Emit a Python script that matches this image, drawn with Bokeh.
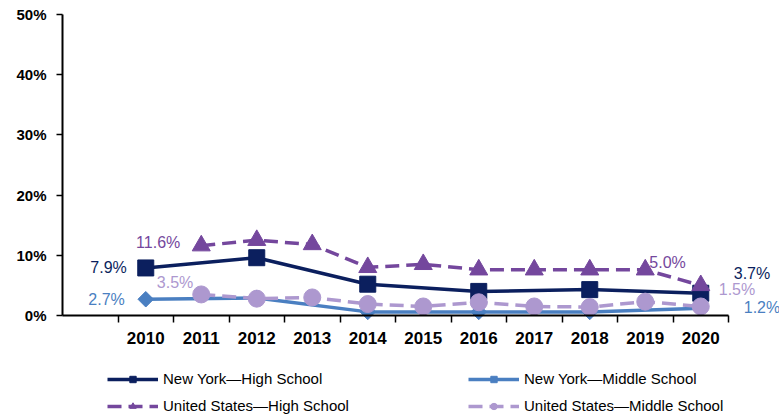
import math
from bokeh.plotting import figure
from bokeh.models import Range1d, FixedTicker, Legend, LegendItem, Label, CustomJSTickFormatter
from bokeh.embed import file_html
from bokeh.resources import INLINE

years_all = [2010, 2011, 2012, 2013, 2014, 2015, 2016, 2017, 2018, 2019, 2020]

ny_hs_years = [2010, 2012, 2014, 2016, 2018, 2020]
ny_hs = [7.9, 9.6, 5.2, 4.0, 4.3, 3.7]

ny_ms_years = [2010, 2012, 2014, 2016, 2018, 2020]
ny_ms = [2.7, 2.9, 0.6, 0.6, 0.6, 1.2]

us_hs_years = [2011, 2012, 2013, 2014, 2015, 2016, 2017, 2018, 2019, 2020]
us_hs = [11.6, 12.5, 11.8, 8.0, 8.5, 7.6, 7.6, 7.6, 7.6, 5.0]

us_ms_years = [2011, 2012, 2013, 2014, 2015, 2016, 2017, 2018, 2019, 2020]
us_ms = [3.5, 2.8, 3.0, 1.9, 1.5, 2.2, 1.5, 1.4, 2.3, 1.5]

y_ticks = [0, 10, 20, 30, 40, 50]

C_NYHS = "#0b1f5e"
C_NYMS = "#4a7fc1"
C_USHS = "#74479d"
C_USMS = "#ad98cf"

# layout (pixels)
W, H = 779, 415
AX_LEFT, AX_RIGHT = 62, 728      # x axis extent
AX_TOP, AX_BOTTOM = 14, 315      # y axis extent (50% .. 0%)

xa0 = years_all[0] - 1.5
xa1 = years_all[-1] + 0.5
ppx = (AX_RIGHT - AX_LEFT) / (xa1 - xa0)
ya0, ya1 = y_ticks[0], y_ticks[-1]
ppy = (AX_BOTTOM - AX_TOP) / (ya1 - ya0)

x_range = Range1d(xa0 - AX_LEFT / ppx, xa1 + (W - AX_RIGHT) / ppx)
y_range = Range1d(ya0 - (H - AX_BOTTOM) / ppy, ya1 + AX_TOP / ppy)

p = figure(width=W, height=H, output_backend="svg", toolbar_location=None,
           x_range=x_range, y_range=y_range,
           min_border_left=0, min_border_right=0, min_border_top=0, min_border_bottom=0)
p.outline_line_color = None
p.xgrid.visible = False
p.ygrid.visible = False

# axes
boundaries = [y - 0.5 for y in years_all] + [years_all[-1] + 0.5]
p.xaxis.fixed_location = ya0
p.xaxis.bounds = (xa0, xa1)
p.xaxis.ticker = FixedTicker(ticks=years_all, minor_ticks=boundaries)
p.xaxis.major_tick_out = 0
p.xaxis.major_tick_in = 0
p.xaxis.minor_tick_out = 7
p.xaxis.minor_tick_in = 0
p.xaxis.minor_tick_line_color = "black"
p.xaxis.minor_tick_line_width = 1.5
p.xaxis.axis_line_width = 2
p.xaxis.axis_line_color = "black"
p.xaxis.major_label_standoff = 9
p.xaxis.major_label_text_font = "Liberation Sans"
p.xaxis.major_label_text_font_style = "bold"
p.xaxis.major_label_text_font_size = "17px"
p.xaxis.major_label_text_color = "black"

p.yaxis.fixed_location = xa0
p.yaxis.bounds = (ya0, ya1)
p.yaxis.ticker = FixedTicker(ticks=y_ticks, minor_ticks=[])
p.yaxis.formatter = CustomJSTickFormatter(code="return tick.toFixed(0) + '%';")
p.yaxis.major_tick_out = 6
p.yaxis.major_tick_in = 0
p.yaxis.major_tick_line_width = 1.5
p.yaxis.major_tick_line_color = "black"
p.yaxis.axis_line_width = 2
p.yaxis.axis_line_color = "black"
p.yaxis.major_label_standoff = 10
p.yaxis.major_label_text_font = "Liberation Sans"
p.yaxis.major_label_text_font_style = "bold"
p.yaxis.major_label_text_font_size = "15px"
p.yaxis.major_label_text_color = "black"

# series
l1 = p.line(ny_hs_years, ny_hs, line_color=C_NYHS, line_width=3.5)
m1 = p.scatter(ny_hs_years, ny_hs, marker="square", size=16, fill_color=C_NYHS, line_color=C_NYHS)

l2 = p.line(ny_ms_years, ny_ms, line_color=C_NYMS, line_width=3.5)
m2 = p.scatter(ny_ms_years, ny_ms, marker="square", angle=math.pi / 4, size=11,
               fill_color=C_NYMS, line_color=C_NYMS)

l3 = p.line(us_hs_years, us_hs, line_color=C_USHS, line_width=3.5, line_dash="14 7")
m3 = p.scatter(us_hs_years, us_hs, marker="triangle", size=18, fill_color=C_USHS, line_color=C_USHS)

l4 = p.line(us_ms_years, us_ms, line_color=C_USMS, line_width=3.5, line_dash="14 7")
m4 = p.scatter(us_ms_years, us_ms, marker="circle", size=17, fill_color=C_USMS, line_color=C_USMS)

# data labels
def lab(x, y, txt, color, xo, yo, align):
    p.add_layout(Label(x=x, y=y, text=txt, text_color=color, x_offset=xo, y_offset=yo,
                       text_align=align, text_baseline="middle",
                       text_font="Liberation Sans", text_font_size="16px"))

lab(ny_hs_years[0], ny_hs[0], f"{ny_hs[0]:.1f}%", C_NYHS, -19, 0, "right")
lab(ny_ms_years[0], ny_ms[0], f"{ny_ms[0]:.1f}%", C_NYMS, -21, 0, "right")
lab(us_hs_years[0], us_hs[0], f"{us_hs[0]:.1f}%", C_USHS, -21, 3, "right")
lab(us_ms_years[0], us_ms[0], f"{us_ms[0]:.1f}%", C_USMS, -8, 12, "right")
lab(us_hs_years[-1], us_hs[-1], f"{us_hs[-1]:.1f}%", C_USHS, -15, 23, "right")
lab(ny_hs_years[-1], ny_hs[-1], f"{ny_hs[-1]:.1f}%", C_NYHS, 33, 20, "left")
lab(us_ms_years[-1], us_ms[-1], f"{us_ms[-1]:.1f}%", C_USMS, 18, 17, "left")
lab(ny_ms_years[-1], ny_ms[-1], f"{ny_ms[-1]:.1f}%", C_NYMS, 43, 1, "left")

# legend (column-major order with 2 columns -> rows: NY HS | NY MS, US HS | US MS)
legend = Legend(items=[
    LegendItem(label="New York\u2014High School", renderers=[l1, m1]),
    LegendItem(label="United States\u2014High School", renderers=[l3, m3]),
    LegendItem(label="New York\u2014Middle School", renderers=[l2, m2]),
    LegendItem(label="United States\u2014Middle School", renderers=[l4, m4]),
], location=(107, 1), ncols=2, orientation="vertical")
legend.padding = 0
legend.margin = 0
legend.spacing = 10
legend.glyph_width = 51
legend.glyph_height = 16
legend.label_height = 16
legend.label_width = 295
legend.label_standoff = 5
legend.border_line_color = None
legend.background_fill_alpha = 0
legend.label_text_font = "Liberation Sans"
legend.label_text_font_size = "15px"
legend.label_text_color = "black"
p.add_layout(legend, "center")

open("out.html", "w").write(file_html(p, INLINE))
